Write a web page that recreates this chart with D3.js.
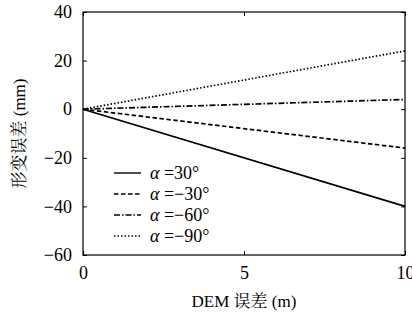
<!DOCTYPE html>
<html>
<head>
<meta charset="utf-8">
<script src="https://cdn.jsdelivr.net/npm/d3@7"></script>
</head>
<body style="margin:0;background:#fff">
<script>
// data: deformation error vs DEM error, straight lines from 0
var demErr = [0, 10];
var labels = ["30", "\u221230", "\u221260", "\u221290"];
var endVals = [-40, -16, 4, 24];
var dashes = [null, "4.5,2.5", "6,2,1.5,2", "1.5,2"];
var xTicks = [0, 5, 10];
var yTicks = [-60, -40, -20, 0, 20, 40];

var W = 412, H = 320;
var m = {left: 83, right: 7, top: 12, bottom: 65};
var SERIF = "Liberation Serif";
var CJK = "Noto Serif CJK SC";

var svg = d3.select("body").append("svg")
  .attr("width", W)
  .attr("height", H);

var x = d3.scaleLinear().domain([0, 10]).range([m.left, W - m.right]);
var y = d3.scaleLinear().domain([-60, 40]).range([H - m.bottom, m.top]);

// series
var line = d3.line().x(function(d) { return x(d[0]); }).y(function(d) { return y(d[1]); });
endVals.forEach(function(v, i) {
  svg.append("path")
    .datum([[demErr[0], 0], [demErr[1], v]])
    .attr("d", line)
    .attr("fill", "none")
    .attr("stroke", "#000")
    .attr("stroke-width", 1.7)
    .attr("stroke-dasharray", dashes[i]);
});

// frame
svg.append("rect")
  .attr("x", x(0)).attr("y", y(40))
  .attr("width", x(10) - x(0)).attr("height", y(-60) - y(40))
  .attr("fill", "none").attr("stroke", "#000").attr("stroke-width", 1.2);

// axes with inward ticks
function styleAxis(g) {
  g.attr("font-family", SERIF).attr("font-size", 18);
  g.select(".domain").remove();
  g.selectAll("line").attr("stroke", "#000").attr("stroke-width", 1);
  g.selectAll("text").attr("fill", "#000").attr("font-family", SERIF);
}
svg.append("g").attr("transform", "translate(0," + y(-60) + ")")
  .call(d3.axisBottom(x).tickValues(xTicks).tickSizeInner(-4).tickSizeOuter(0).tickPadding(11))
  .call(styleAxis);
svg.append("g").attr("transform", "translate(0," + y(40) + ")")
  .call(d3.axisTop(x).tickValues(xTicks).tickSizeInner(-4).tickSizeOuter(0).tickFormat(""))
  .call(styleAxis);
svg.append("g").attr("transform", "translate(" + x(0) + ",0)")
  .call(d3.axisLeft(y).tickValues(yTicks).tickSizeInner(-4).tickSizeOuter(0).tickPadding(11)
    .tickFormat(function(d) { return d < 0 ? "\u2212" + (-d) : d; }))
  .call(styleAxis);
svg.append("g").attr("transform", "translate(" + x(10) + ",0)")
  .call(d3.axisRight(y).tickValues(yTicks).tickSizeInner(-4).tickSizeOuter(0).tickFormat(""))
  .call(styleAxis);

// axis titles
var xt = svg.append("text")
  .attr("x", x(5)).attr("y", 307)
  .attr("text-anchor", "middle")
  .attr("font-family", SERIF)
  .attr("font-size", 17);
xt.append("tspan").text("DEM ");
xt.append("tspan").attr("font-family", CJK).attr("font-size", 17).text("误差");
xt.append("tspan").text(" (m)");

var yt = svg.append("text")
  .attr("transform", "translate(25," + ((y(40) + y(-60)) / 2) + ") rotate(-90)")
  .attr("text-anchor", "middle")
  .attr("font-family", SERIF)
  .attr("font-size", 17);
yt.append("tspan").attr("font-family", CJK).attr("font-size", 17).text("形变误差");
yt.append("tspan").text(" (mm)");

// legend
var leg = svg.append("g");
labels.forEach(function(l, i) {
  var ly = 173 + i * 21;
  leg.append("line")
    .attr("x1", 114).attr("x2", 141)
    .attr("y1", ly).attr("y2", ly)
    .attr("stroke", "#000").attr("stroke-width", 1.4)
    .attr("stroke-dasharray", dashes[i]);
  var t = leg.append("text").attr("x", 150).attr("y", ly + 6)
    .attr("font-family", SERIF).attr("font-size", 18);
  t.append("tspan").attr("font-style", "italic").text("\u03b1");
  t.append("tspan").text(" =" + l + "\u00b0");
});
</script>
</body>
</html>
